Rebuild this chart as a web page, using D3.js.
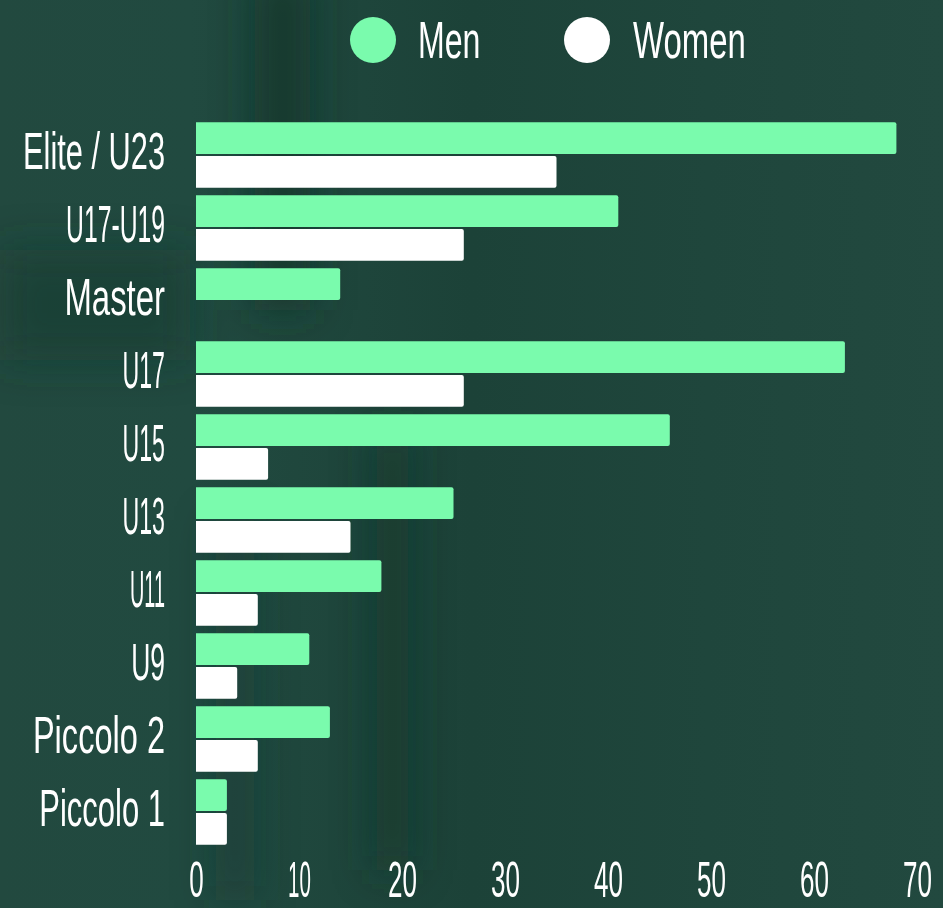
<!DOCTYPE html>
<html>
<head>
<meta charset="utf-8">
<script src="https://cdn.jsdelivr.net/npm/d3@7"></script>
<style>
  html, body { margin: 0; padding: 0; background: #1d4439; }
  svg { display: block; }
  text { font-family: "Liberation Sans", Arial, sans-serif; fill: #ffffff; }
</style>
</head>
<body>
<svg id="chart" width="943" height="908"></svg>
<script>
const categories = ["Elite / U23", "U17-U19", "Master", "U17", "U15", "U13", "U11", "U9", "Piccolo 2", "Piccolo 1"];
const seriesNames = ["Men", "Women"];
const men   = [68, 41, 14, 63, 46, 25, 18, 11, 13, 3];
const women = [35, 26, 0, 26, 7, 15, 6, 4, 6, 3];
const xTicks = [0, 10, 20, 30, 40, 50, 60, 70];
const colors = ["#7afbad", "#ffffff"];

const W = 943, H = 908;
const FONT = 52;
const svg = d3.select("#chart");
const defs = svg.append("defs");

// condensed look: compress each glyph's advance by character class
function glyphFactor(ch) {
  if (ch === "1") return 0.3;
  if (ch === "U") return 0.5;
  if (/[0-9]/.test(ch)) return 0.52;
  if (/[A-Z]/.test(ch)) return 0.56;
  if (ch === " ") return 0.68;
  if (ch === "-") return 0.8;
  if (ch === "/") return 0.7;
  return 0.66;
}
function condense(sel) {
  sel.each(function () {
    const t = this, s = t.textContent;
    let total = 0;
    for (let i = 0; i < s.length; i++) total += t.getSubStringLength(i, 1) * glyphFactor(s[i]);
    d3.select(t).attr("textLength", total).attr("lengthAdjust", "spacingAndGlyphs");
  });
}

// background
const bg = defs.append("linearGradient").attr("id", "bg").attr("x1", 0).attr("x2", 1).attr("y1", 0).attr("y2", 0);
[[0, "#22493f"], [0.2, "#214a40"], [0.5, "#1c4238"], [0.75, "#1f463c"], [1, "#22493f"]]
  .forEach(([o, c]) => bg.append("stop").attr("offset", o).attr("stop-color", c));
svg.append("rect").attr("width", W).attr("height", H).attr("fill", "url(#bg)");
const blur = defs.append("filter").attr("id", "blur").attr("x", "-50%").attr("y", "-50%").attr("width", "200%").attr("height", "200%");
blur.append("feGaussianBlur").attr("stdDeviation", 20);
const bgBlobs = svg.append("g").attr("filter", "url(#blur)");
bgBlobs.append("rect").attr("x", 255).attr("y", -30).attr("width", 55).attr("height", 340).attr("fill", "#0d3429").attr("opacity", 0.7);
bgBlobs.append("rect").attr("x", 375).attr("y", 430).attr("width", 35).attr("height", 440).attr("fill", "#0e382c").attr("opacity", 0.65);
bgBlobs.append("rect").attr("x", 215).attr("y", 520).attr("width", 40).attr("height", 380).attr("fill", "#123b30").attr("opacity", 0.45);
bgBlobs.append("rect").attr("x", 0).attr("y", 250).attr("width", 190).attr("height", 110).attr("fill", "#163c32").attr("opacity", 0.55);

// scales
const x = d3.scaleLinear().domain([0, 70]).range([196, 917]);
const y = d3.scaleBand().domain(categories).range([118.5, 848.5]).paddingInner(0.1).paddingOuter(0.05);
const y1 = d3.scaleBand().domain(seriesNames).range([0, y.bandwidth()]).paddingInner(0.06);

const data = categories.map((c, i) => ({ cat: c, vals: [men[i], women[i]] }));

const groups = svg.append("g").selectAll("g").data(data).join("g")
  .attr("transform", d => `translate(0,${y(d.cat)})`);
groups.selectAll("path").data(d => d.vals.map((v, j) => ({ v, s: seriesNames[j], j })).filter(e => e.v > 0))
  .join("path")
  .attr("fill", e => colors[e.j])
  .attr("d", e => {
    const x0 = x(0), x1 = x(e.v), t = y1(e.s), h = y1.bandwidth(), r = 2;
    return `M${x0},${t}H${x1 - r}Q${x1},${t} ${x1},${t + r}V${t + h - r}Q${x1},${t + h} ${x1 - r},${t + h}H${x0}Z`;
  });

// y axis labels
const yAxis = d3.axisLeft(y).tickSize(0).tickPadding(0);
const yg = svg.append("g").attr("transform", "translate(165,0)").call(yAxis);
yg.select(".domain").remove();
yg.selectAll("text").attr("font-size", FONT).attr("fill", "#fff")
  .attr("font-family", '"Liberation Sans", Arial, sans-serif')
  .attr("dy", "0.27em").call(condense);

// x axis
const xAxis = d3.axisBottom(x).tickValues(xTicks).tickSize(0).tickPadding(0).tickFormat(d3.format("d"));
const xg = svg.append("g").attr("transform", "translate(0,897)").call(xAxis);
xg.select(".domain").remove();
xg.selectAll("text").attr("font-size", 50).attr("fill", "#fff")
  .attr("font-family", '"Liberation Sans", Arial, sans-serif')
  .attr("y", 0).attr("dy", 0).call(condense);

// legend
const legend = svg.append("g");
const legendItems = [{ name: seriesNames[0], cx: 373, tx: 418 }, { name: seriesNames[1], cx: 587, tx: 633 }];
legendItems.forEach((it, i) => {
  legend.append("circle").attr("cx", it.cx).attr("cy", 40).attr("r", 23).attr("fill", colors[i]);
  legend.append("text").attr("x", it.tx).attr("y", 58).attr("font-size", FONT).text(it.name).call(condense);
});
</script>
</body>
</html>
